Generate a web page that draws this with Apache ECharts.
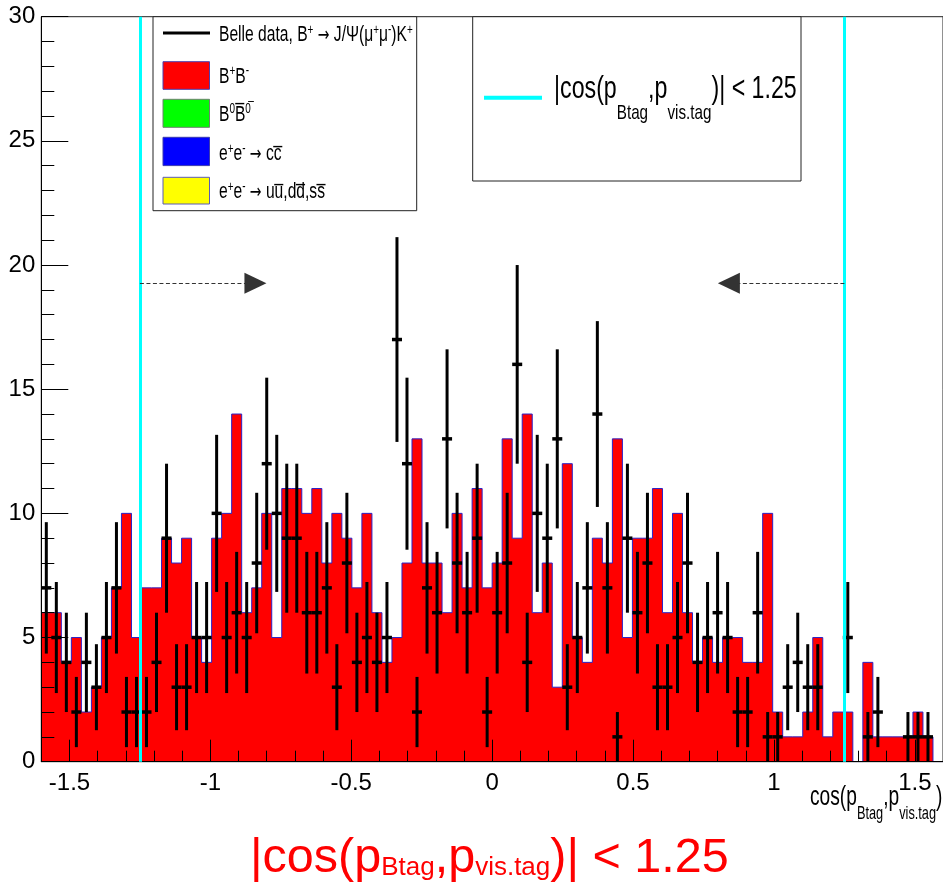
<!DOCTYPE html>
<html>
<head>
<meta charset="utf-8">
<script src="https://cdn.jsdelivr.net/npm/echarts@6/dist/echarts.min.js"></script>
<style>html,body{margin:0;padding:0;background:#fff}#chart{width:943px;height:883px}</style>
</head>
<body>
<div id="chart"></div>
<script>
// ---- data ----
const binLow = -1.6;
const binHigh = 1.6;
const nBins = 90;
// MC histogram (B+B-), counts per bin
const mcCounts = [6,6,4,5,2,3,5,7,10,5,
  7,7,9,8,9,5,4,9,10,14,
  6,7,10,5,11,11,10,11,8,10,
  9,7,10,6,4,5,8,13,8,8,
  6,10,7,11,7,8,13,9,14,6,
  8,3,12,5,4,9,8,13,5,9,
  9,11,6,10,6,4,5,4,5,5,
  4,4,10,2,1,1,2,5,1,2,
  2,0,4,1,1,1,1,2,1,0];
// Belle data counts per bin
const dataCounts = [7,5,4,2,4,3,5,7,2,2,
  2,4,9,3,3,5,5,10,5,6,
  5,8,12,10,9,9,6,6,7,3,
  8,4,5,4,5,17,12,2,7,6,
  13,8,6,9,2,6,8,16,4,10,
  9,13,3,5,7,14,7,1,9,6,
  8,3,3,5,8,4,5,6,5,2,
  2,6,1,1,3,4,3,3,0,0,
  5,0,1,2,0,0,1,1,1,0];
const xTickValues = [-1.5, -1, -0.5, 0, 0.5, 1, 1.5];
const cutValue = 1.25;
const arrowLevel = 19.27;
const arrowEnd = 0.84;

// ---- derived ----
const binW = (binHigh - binLow) / nBins;
const histData = mcCounts.map((v, i) => [binLow + i * binW, v]);
histData.push([binHigh, 0]);
const pointData = [];
dataCounts.forEach((n, i) => { if (n > 0) pointData.push([binLow + (i + 0.5) * binW, n]); });

const FONT = "'Liberation Sans', Arial, Helvetica, sans-serif";
const SYMFONT = "'DejaVu Sans', sans-serif";

function richLabel(o) {
  const K = 0.8465;
  const M = o.size, s = o.small;
  const rise = o.rise || 0, drop = o.drop || 0;
  let Pm = Math.max(2, rise - K * (M - s) + 2);
  const Pu = Pm + K * (M - s) - rise;
  const Pd = Pm + K * (M - s) + drop;
  const lineTop = o.baseline - Pm - K * M;
  const base = { fontFamily: FONT, fill: o.color, verticalAlign: 'top' };
  let txt = '';
  o.parts.forEach(p => { txt += '{' + p[1] + '|' + p[0] + '}'; });
  return {
    type: 'text', x: o.x, y: lineTop, z: 200, silent: true,
    scaleX: o.sx || 1, scaleY: 1, originX: 0, originY: 0,
    style: {
      text: txt, textAlign: 'left', verticalAlign: 'top',
      fontFamily: FONT, fontSize: M, fill: o.color,
      rich: {
        m: Object.assign({}, base, { fontSize: M, padding: [Pm, 0, 0, 0] }),
        a: Object.assign({}, base, { fontFamily: SYMFONT, fontSize: M * 0.9, padding: [Pm + K * M * 0.1, 0, 0, 0] }),
        u: Object.assign({}, base, { fontSize: s, padding: [Pu, 0, 0, 0] }),
        d: Object.assign({}, base, { fontSize: s, padding: [Pd, 0, 0, 0] })
      }
    }
  };
}

const cutParts = [['|cos(p','m'],['Btag','d'],[',p','m'],['vis.tag','d'],[')| < 1.25','m']];
const SX = 0.71;

const graphics = [
  // legend box 1
  { type: 'rect', z: 150, silent: true, shape: { x: 153, y: 16.7, width: 263.7, height: 194 }, style: { fill: '#fff', stroke: '#222', lineWidth: 1 } },
  { type: 'line', z: 160, silent: true, shape: { x1: 163, y1: 33, x2: 210, y2: 33 }, style: { stroke: '#000', lineWidth: 3 } },
  { type: 'rect', z: 160, silent: true, shape: { x: 163, y: 61.7, width: 46.5, height: 27.6 }, style: { fill: '#ff0000', stroke: '#4b3fb0', lineWidth: 1 } },
  { type: 'rect', z: 160, silent: true, shape: { x: 163, y: 99.3, width: 46.5, height: 28 }, style: { fill: '#00ff00', stroke: '#6f806f', lineWidth: 1 } },
  { type: 'rect', z: 160, silent: true, shape: { x: 163, y: 137.3, width: 46.5, height: 28.3 }, style: { fill: '#0000ff', stroke: '#3a3ab0', lineWidth: 1 } },
  { type: 'rect', z: 160, silent: true, shape: { x: 163, y: 177.3, width: 46.5, height: 26.7 }, style: { fill: '#ffff00', stroke: '#5a5ab8', lineWidth: 1 } },
  richLabel({ x: 219, baseline: 43, size: 22, small: 14, rise: 8, sx: SX, color: '#000',
    parts: [['Belle data, B','m'],['+','u'],[' ','m'],['\u2192','a'],[' J/\u03A8(\u03BC','m'],['+','u'],['\u03BC','m'],['-','u'],[')K','m'],['+','u']] }),
  richLabel({ x: 219, baseline: 85, size: 22, small: 14, rise: 9, sx: SX, color: '#000',
    parts: [['B','m'],['+','u'],['B','m'],['-','u']] }),
  richLabel({ x: 219, baseline: 122.7, size: 22, small: 14, rise: 9, sx: SX, color: '#000',
    parts: [['B','m'],['0','u'],['B\u0305','m'],['0\u0305','u']] }),
  richLabel({ x: 219, baseline: 161.7, size: 22, small: 14, rise: 8, sx: SX, color: '#000',
    parts: [['e','m'],['+','u'],['e','m'],['-','u'],[' ','m'],['\u2192','a'],[' cc\u0305','m']] }),
  richLabel({ x: 219, baseline: 200, size: 22, small: 14, rise: 8, sx: SX, color: '#000',
    parts: [['e','m'],['+','u'],['e','m'],['-','u'],[' ','m'],['\u2192','a'],[' uu\u0305,dd\u0305,ss\u0305','m']] }),
  // legend box 2
  { type: 'rect', z: 150, silent: true, shape: { x: 472.7, y: 16.7, width: 328.3, height: 164.3 }, style: { fill: '#fff', stroke: '#222', lineWidth: 1 } },
  { type: 'line', z: 160, silent: true, shape: { x1: 484, y1: 97.7, x2: 542, y2: 97.7 }, style: { stroke: '#00ffff', lineWidth: 4 } },
  richLabel({ x: 554, baseline: 100, size: 32, small: 21, drop: 20, sx: 0.725, color: '#000', parts: cutParts }),
  // x axis title
  richLabel({ x: 810, baseline: 807, size: 27, small: 18, drop: 13, sx: SX, color: '#000',
    parts: [['cos(p','m'],['Btag','d'],[',p','m'],['vis.tag','d'],[')','m']] }),
  // bottom caption
  richLabel({ x: 250, baseline: 875, size: 48.5, small: 26, drop: 2, sx: 1, color: '#ff0000', parts: cutParts })
];

const chart = echarts.init(document.getElementById('chart'), null, { renderer: 'canvas' });
chart.setOption({
  animation: false,
  backgroundColor: '#ffffff',
  grid: { left: 41.3, right: -2.3, top: 16.7, bottom: 121.3, show: true, borderColor: '#222', borderWidth: 1, backgroundColor: 'transparent' },
  xAxis: [
    {
      type: 'value', min: binLow, max: binHigh, position: 'bottom', z: 3,
      axisLine: { show: true, onZero: false, lineStyle: { color: '#000', width: 1 } },
      axisTick: { show: true, inside: true, length: 22, customValues: xTickValues, lineStyle: { color: '#000', width: 1 } },
      axisLabel: { show: true, customValues: xTickValues, fontSize: 24, fontFamily: FONT, color: '#000', margin: 10 },
      splitLine: { show: false }
    },
    {
      type: 'value', min: binLow, max: binHigh, interval: 0.1, position: 'bottom', z: 3,
      axisLine: { show: false, onZero: false },
      axisTick: { show: true, inside: true, length: 11, lineStyle: { color: '#000', width: 1 } },
      axisLabel: { show: false },
      splitLine: { show: false }
    }
  ],
  yAxis: {
    type: 'value', min: 0, max: 30, interval: 5, z: 3,
    axisLine: { show: true, onZero: false, lineStyle: { color: '#000', width: 1 } },
    axisTick: { show: true, inside: true, length: 27, lineStyle: { color: '#000', width: 1 } },
    minorTick: { show: true, splitNumber: 5, length: 13, lineStyle: { color: '#000', width: 1 } },
    axisLabel: { fontSize: 24, fontFamily: FONT, color: '#000', margin: 6 },
    splitLine: { show: false }
  },
  series: [
    {
      type: 'line', name: 'B+B-', xAxisIndex: 0, data: histData, step: 'end',
      symbol: 'none', showSymbol: false, z: 2, silent: true,
      lineStyle: { color: '#2a22c8', width: 1 },
      areaStyle: { color: '#ff0000', opacity: 1 },
      markLine: {
        silent: true, symbol: 'none', animation: false,
        label: { show: false },
        lineStyle: { color: '#00ffff', width: 3, type: 'solid' },
        emphasis: { disabled: true },
        data: [{ xAxis: -cutValue }, { xAxis: cutValue }]
      }
    },
    {
      type: 'custom', name: 'Belle data', xAxisIndex: 0, data: pointData, z: 4, silent: true,
      encode: { x: 0, y: 1 },
      renderItem: function (params, api) {
        const xc = api.value(0), n = api.value(1);
        const e = Math.sqrt(n);
        const pT = api.coord([xc, n + e]);
        const pB = api.coord([xc, Math.max(0, n - e)]);
        const pL = api.coord([xc - binW / 2, n]);
        const pR = api.coord([xc + binW / 2, n]);
        return { type: 'group', children: [
          { type: 'line', shape: { x1: pT[0], y1: pT[1], x2: pB[0], y2: pB[1] }, style: { stroke: '#000', lineWidth: 3 } },
          { type: 'line', shape: { x1: pL[0], y1: pL[1], x2: pR[0], y2: pR[1] }, style: { stroke: '#000', lineWidth: 3.5 } }
        ] };
      },
      markLine: {
        silent: true, animation: false,
        symbol: ['none', 'triangle'], symbolSize: [21, 22],
        label: { show: false },
        emphasis: { disabled: true },
        lineStyle: { color: '#333', width: 1.1, type: [4, 2.5] },
        data: [
          [{ coord: [-cutValue, arrowLevel] }, { coord: [-arrowEnd, arrowLevel] }],
          [{ coord: [cutValue, arrowLevel] }, { coord: [arrowEnd, arrowLevel] }]
        ]
      }
    }
  ],
  graphic: graphics
});
</script>
</body>
</html>
